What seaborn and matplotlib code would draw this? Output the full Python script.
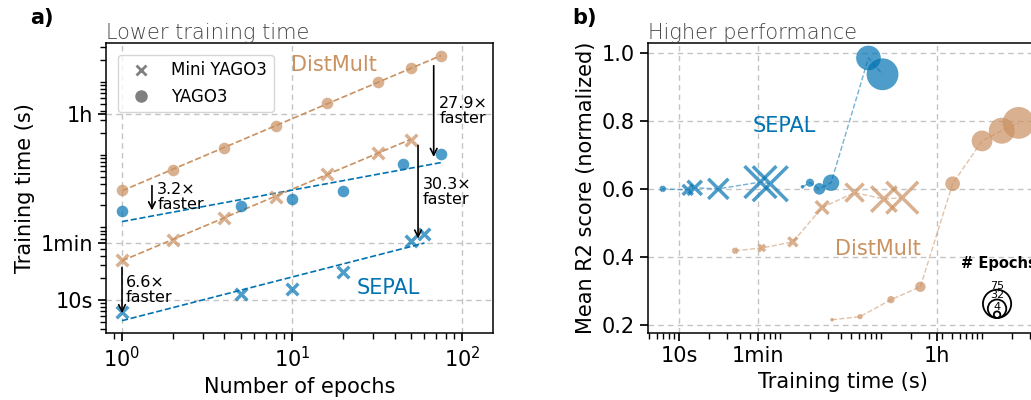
import numpy as np
import pandas as pd
import matplotlib
matplotlib.use("Agg")
import matplotlib.pyplot as plt
import matplotlib.ticker as mticker
from matplotlib.lines import Line2D
from matplotlib.transforms import ScaledTranslation
import seaborn as sns

# --- data: epochs, training time (s) and normalized score ---
sepal_mini_epochs = [1, 5, 10, 20, 50, 60]
sepal_mini_time = [6.9, 12.2, 14.3, 24.5, 64, 80]
sepal_mini_score = [0.600, 0.597, 0.603, 0.600, 0.620, 0.615]

sepal_yago_epochs = [1, 5, 10, 20, 45, 75]
sepal_yago_time = [167, 198, 245, 320, 751, 1034]
sepal_yago_score = [0.606, 0.618, 0.600, 0.618, 0.985, 0.937]

dm_mini_epochs = [1, 2, 4, 8, 16, 32, 50]
dm_mini_time = [36, 66, 134, 261, 547, 1068, 1620]
dm_mini_score = [0.418, 0.426, 0.444, 0.545, 0.589, 0.570, 0.574]

dm_yago_epochs = [1, 2, 4, 8, 16, 32, 50, 75]
dm_yago_time = [327, 620, 1253, 2452, 5110, 10000, 15660, 23000]
dm_yago_score = [0.215, 0.224, 0.274, 0.312, 0.615, 0.741, 0.771, 0.794]

time_ticks = [10, 60, 3600]
time_labels = ["10s", "1min", "1h"]
legend_epochs = [75, 32, 4]

BLUE = "#0173b2"
ORANGE = "#ca9161"

series = [
    ("SEPAL", "Mini YAGO3", sepal_mini_epochs, sepal_mini_time, sepal_mini_score),
    ("SEPAL", "YAGO3", sepal_yago_epochs, sepal_yago_time, sepal_yago_score),
    ("DistMult", "Mini YAGO3", dm_mini_epochs, dm_mini_time, dm_mini_score),
    ("DistMult", "YAGO3", dm_yago_epochs, dm_yago_time, dm_yago_score),
]
frames = []
for model, dataset, ep, t, sc in series:
    frames.append(pd.DataFrame({"model": model, "dataset": dataset,
                                "epochs": ep, "time": t, "score": sc}))
df = pd.concat(frames, ignore_index=True)

colors = {"SEPAL": BLUE, "DistMult": ORANGE}
markers = {"Mini YAGO3": "x", "YAGO3": "o"}

sns.set_theme(style="ticks")
plt.rcParams["font.family"] = ["DejaVu Sans"]
plt.rcParams.update({
    "text.color": "black",
    "axes.labelcolor": "black",
    "axes.edgecolor": "black",
    "xtick.color": "black",
    "ytick.color": "black",
    "axes.linewidth": 1.1,
})

fig = plt.figure(figsize=(10.31, 4), dpi=100)
ax1 = fig.add_axes([0.1028, 0.1675, 0.3755, 0.725])
ax2 = fig.add_axes([0.6285, 0.1675, 0.3783, 0.725])

grid_kw = dict(color="#c4c4c4", linestyle=(0, (4, 3)), linewidth=1)

# ---------------- panel a: training time vs epochs ----------------
for (model, dataset), g in df.groupby(["model", "dataset"]):
    # power-law fit in log-log space
    slope, icpt = np.polyfit(np.log10(g["epochs"]), np.log10(g["time"]), 1)
    xs = np.array([g["epochs"].min(), g["epochs"].max()])
    ax1.plot(xs, 10 ** (icpt + slope * np.log10(xs)), "--",
             color=colors[model], lw=1.2, zorder=2)
    kw = dict(linewidth=2.5) if dataset == "Mini YAGO3" else dict(linewidth=0)
    sns.scatterplot(data=g, x="epochs", y="time", marker=markers[dataset],
                    color=colors[model], s=70, alpha=0.7, ax=ax1, zorder=3,
                    legend=False, **kw)

ax1.set_xscale("log")
ax1.set_yscale("log")
ax1.set_xlim(0.805, 152)
ax1.set_ylim(3.5, 34600)
ax1.yaxis.set_major_locator(mticker.FixedLocator(time_ticks))
ax1.yaxis.set_major_formatter(mticker.FixedFormatter(time_labels))
ax1.yaxis.set_minor_locator(mticker.LogLocator(subs=np.arange(1, 10), numticks=20))
ax1.yaxis.set_minor_formatter(mticker.NullFormatter())
ax1.grid(True, which="major", **grid_kw)
ax1.set_xlabel("Number of epochs", fontsize=15)
ax1.set_ylabel("Training time (s)", fontsize=15)
ax1.tick_params(labelsize=15)
ax1.set_title("Lower training time", loc="left", fontsize=15,
              fontweight="light", color="#444444", pad=3)

arrows = [
    (1.5, 409, 157, "3.2×\nfaster", 1.61, 261),
    (1.0, 30.7, 6.0, "6.6×\nfaster", 1.055, 13.8),
    (68, 18400, 853, "27.9×\nfaster", 73.4, 3960),
    (55, 1470, 64, "30.3×\nfaster", 58.8, 306),
]
for x, y0, y1, label, tx, ty in arrows:
    ax1.annotate("", xy=(x, y1), xytext=(x, y0),
                 arrowprops=dict(arrowstyle="->", color="black", lw=1.2))
    ax1.text(tx, ty, label, fontsize=11.5, ha="left", va="center",
             linespacing=1.0)

ax1.text(9.9, 17000, "DistMult", color=ORANGE, fontsize=15, va="center")
ax1.text(24, 14.5, "SEPAL", color=BLUE, fontsize=15, va="center")

handles = [
    Line2D([], [], marker="x", ls="", color="gray", markersize=7, mew=2),
    Line2D([], [], marker="o", ls="", color="gray", markersize=8),
]
ax1.legend(handles, ["Mini YAGO3", "YAGO3"], loc="upper left", fontsize=12,
           borderaxespad=0.7)

fig.text(0.029, 0.955, "a)", fontsize=15, fontweight="bold", va="center")

# ---------------- panel b: score vs training time ----------------
k = 7.0  # marker area per epoch
for (model, dataset), g in df.groupby(["model", "dataset"]):
    g = g.sort_values("epochs")
    ax2.plot(g["time"], g["score"], "--", color=colors[model], lw=1,
             alpha=0.55, zorder=2)
    if dataset == "Mini YAGO3":
        kk, kw = k * 1.5, dict(linewidth=2.5)
    else:
        kk, kw = k, dict(linewidth=0)
    sns.scatterplot(data=g, x="time", y="score", size="epochs",
                    sizes=(kk * 1, kk * 75), size_norm=(1, 75),
                    marker=markers[dataset], color=colors[model], alpha=0.7,
                    ax=ax2, zorder=3, legend=False, **kw)

ax2.set_xscale("log")
ax2.set_xlim(4.93, 35800)
ax2.set_ylim(0.176, 1.029)
ax2.xaxis.set_major_locator(mticker.FixedLocator(time_ticks))
ax2.xaxis.set_major_formatter(mticker.FixedFormatter(time_labels))
ax2.xaxis.set_minor_locator(mticker.LogLocator(subs=np.arange(1, 10), numticks=20))
ax2.xaxis.set_minor_formatter(mticker.NullFormatter())
ax2.set_yticks([0.2, 0.4, 0.6, 0.8, 1.0])
ax2.grid(True, which="major", **grid_kw)
ax2.set_xlabel("Training time (s)", fontsize=15)
ax2.set_ylabel("Mean R2 score (normalized)", fontsize=15)
ax2.tick_params(labelsize=15)
ax2.set_title("Higher performance", loc="left", fontsize=15,
              fontweight="light", color="#444444", pad=3)

ax2.text(53, 0.785, "SEPAL", color=BLUE, fontsize=15, va="center")
ax2.text(350, 0.424, "DistMult", color=ORANGE, fontsize=15, va="center")

# size legend: nested circles sharing a common bottom
kl = 5.5
cx, cy = 0.895, 0.052
for n in legend_epochs:
    r_pt = np.sqrt(kl * n) / 2
    tr = ax2.transAxes + ScaledTranslation(0, r_pt / 72, fig.dpi_scale_trans)
    ax2.scatter([cx], [cy], s=kl * n, facecolors="none", edgecolors="black",
                linewidths=1.3, transform=tr, zorder=5, clip_on=False)
    tr_t = ax2.transAxes + ScaledTranslation(0, (2 * r_pt + 3) / 72,
                                             fig.dpi_scale_trans)
    ax2.text(cx, cy, str(n), fontsize=8, ha="center", va="center",
             transform=tr_t, zorder=6)
ax2.text(0.803, 0.238, "# Epochs", fontsize=10.5, fontweight="bold",
         transform=ax2.transAxes, va="center", ha="left")

fig.text(0.555, 0.955, "b)", fontsize=15, fontweight="bold", va="center")

fig.savefig("out.png", dpi=100)
plt.close(fig)
